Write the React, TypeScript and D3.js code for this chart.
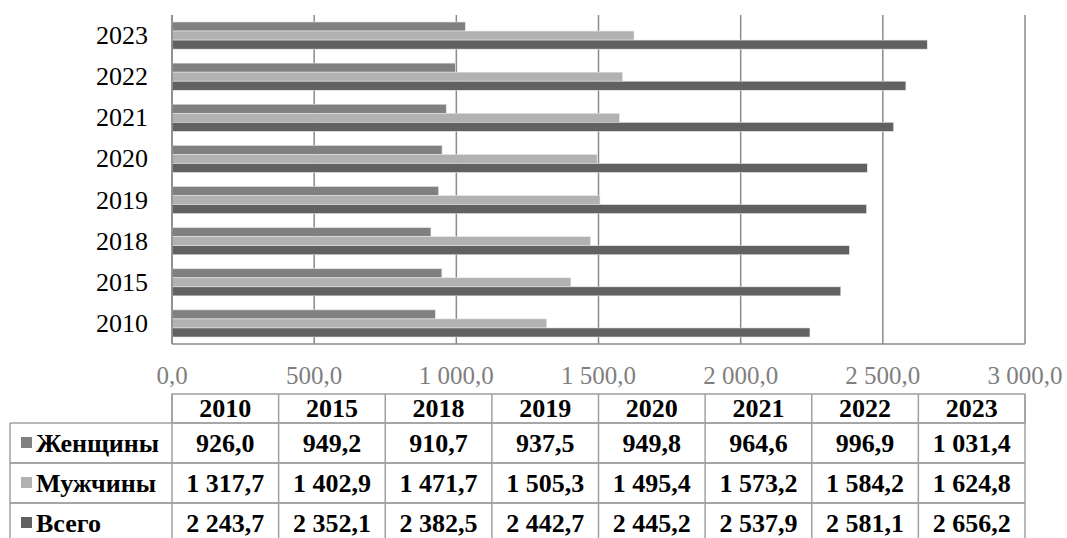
import React from "react";
import * as d3 from "d3";

const years = ["2010", "2015", "2018", "2019", "2020", "2021", "2022", "2023"];
const women = [926.0, 949.2, 910.7, 937.5, 949.8, 964.6, 996.9, 1031.4];
const men = [1317.7, 1402.9, 1471.7, 1505.3, 1495.4, 1573.2, 1584.2, 1624.8];
const total = [2243.7, 2352.1, 2382.5, 2442.7, 2445.2, 2537.9, 2581.1, 2656.2];
const seriesNames = ["Женщины", "Мужчины", "Всего"];
const seriesColors = ["#808080", "#b2b2b2", "#616161"];
const xTicks = [0, 500, 1000, 1500, 2000, 2500, 3000];

const seriesValues = [women, men, total];

const ru = d3.formatLocale({
  decimal: ",",
  thousands: "\u00a0",
  grouping: [3],
  currency: ["", " ₽"],
});
const fmt = ru.format(",.1f");

const W = 1067;
const H = 538;
const FONT = "'Liberation Serif', 'Times New Roman', serif";

export default function App() {
  const left = 172;
  const right = 1025;
  const top = 15;
  const bottom = 344;

  const x = d3.scaleLinear().domain([0, 3000]).range([left, right]);
  const y = d3
    .scaleBand<string>()
    .domain([...years].reverse())
    .range([top, bottom])
    .paddingInner(0.34)
    .paddingOuter(0.17);
  const sub = d3
    .scaleBand<string>()
    .domain(seriesNames)
    .range([0, y.bandwidth()]);

  const colX = d3
    .scaleBand<string>()
    .domain(years)
    .range([left, right]);

  const tableTop = 394;
  const headerH = 29;
  const rowH = 40;
  const labelLeft = 10;
  const gridColor = "#8a8a8a";
  const tableColor = "#a0a0a0";
  const tfs = 26;

  return (
    <svg
      width={W}
      height={H}
      style={{ position: "absolute", left: 0, top: 0, background: "#fff" }}
      fontFamily={FONT}
    >
      {xTicks.map((t) => (
        <line
          key={"g" + t}
          x1={x(t)}
          x2={x(t)}
          y1={top}
          y2={bottom}
          stroke={gridColor}
          strokeWidth={1.5}
        />
      ))}
      {years.map((yr, i) => (
        <g key={yr} transform={`translate(0,${y(yr)})`}>
          {seriesNames.map((s, si) => (
            <rect
              key={s}
              x={x(0)}
              y={sub(s)}
              width={x(seriesValues[si][i]) - x(0)}
              height={sub.bandwidth()}
              fill={seriesColors[si]}
              stroke="#e6e6e6"
              strokeWidth={0.6}
            />
          ))}
        </g>
      ))}
      <line x1={left} x2={left} y1={top} y2={bottom} stroke={gridColor} strokeWidth={1.5} />
      <line x1={left} x2={right} y1={bottom} y2={bottom} stroke={gridColor} strokeWidth={1.5} />
      {years.map((yr) => (
        <text
          key={"yl" + yr}
          x={148}
          y={(y(yr) as number) + y.bandwidth() / 2}
          textAnchor="end"
          dominantBaseline="central"
          fontSize={26}
          fill="#000"
        >
          {yr}
        </text>
      ))}
      {xTicks.map((t) => (
        <text
          key={"xl" + t}
          x={x(t)}
          y={384}
          textAnchor="middle"
          fontSize={25}
          fill="#7f7f7f"
        >
          {fmt(t)}
        </text>
      ))}
      <g>
        <rect
          x={left}
          y={tableTop}
          width={right - left}
          height={headerH}
          fill="none"
          stroke={tableColor}
          strokeWidth={1.5}
        />
        {years.map((yr) => (
          <g key={"h" + yr}>
            <line
              x1={colX(yr)}
              x2={colX(yr)}
              y1={tableTop}
              y2={tableTop + headerH + rowH * 3}
              stroke={tableColor}
              strokeWidth={1.5}
            />
            <text
              x={(colX(yr) as number) + colX.bandwidth() / 2}
              y={tableTop + headerH / 2}
              textAnchor="middle"
              dominantBaseline="central"
              fontSize={tfs}
              fontWeight="bold"
            >
              {yr}
            </text>
          </g>
        ))}
        <line
          x1={right}
          x2={right}
          y1={tableTop}
          y2={tableTop + headerH + rowH * 3}
          stroke={tableColor}
          strokeWidth={1.5}
        />
        {seriesNames.map((s, si) => {
          const ry = tableTop + headerH + si * rowH;
          return (
            <g key={"r" + s}>
              <line
                x1={labelLeft}
                x2={right}
                y1={ry}
                y2={ry}
                stroke={tableColor}
                strokeWidth={1.5}
              />
              <line
                x1={labelLeft}
                x2={right}
                y1={ry + rowH}
                y2={ry + rowH}
                stroke={tableColor}
                strokeWidth={1.5}
              />
              <rect x={21} y={ry + rowH / 2 - 6} width={11} height={11} fill={seriesColors[si]} />
              <text
                x={36}
                y={ry + rowH / 2}
                dominantBaseline="central"
                fontSize={tfs}
                fontWeight="bold"
              >
                {s}
              </text>
              {years.map((yr, i) => (
                <text
                  key={yr}
                  x={(colX(yr) as number) + colX.bandwidth() / 2}
                  y={ry + rowH / 2}
                  textAnchor="middle"
                  dominantBaseline="central"
                  fontSize={tfs}
                  fontWeight="bold"
                >
                  {fmt(seriesValues[si][i])}
                </text>
              ))}
            </g>
          );
        })}
        <line
          x1={labelLeft}
          x2={labelLeft}
          y1={tableTop + headerH}
          y2={tableTop + headerH + rowH * 3}
          stroke={tableColor}
          strokeWidth={1.5}
        />
      </g>
    </svg>
  );
}
